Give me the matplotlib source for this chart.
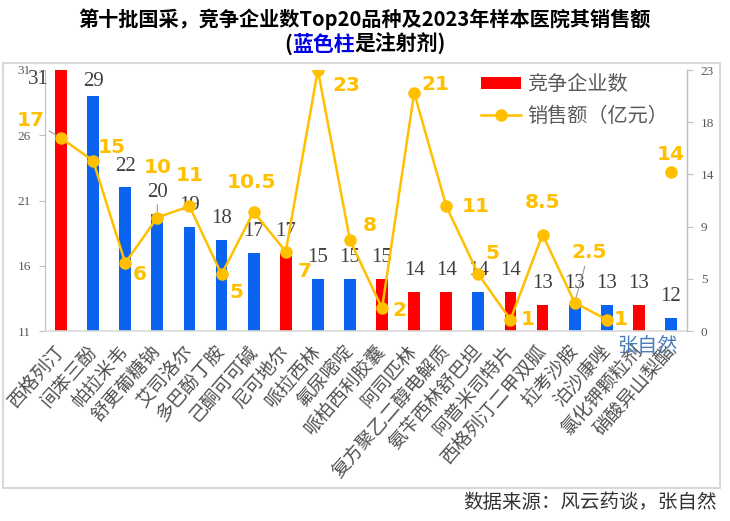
import matplotlib
matplotlib.use("Agg")
import matplotlib.pyplot as plt
import numpy as np
from matplotlib.patches import Patch, Rectangle
from matplotlib.lines import Line2D
from matplotlib.offsetbox import TextArea, HPacker, AnnotationBbox

plt.rcParams['font.family'] = ['Noto Sans CJK SC', 'DejaVu Sans']

drugs = ['西格列汀', '间苯三酚', '帕拉米韦', '舒更葡糖钠', '艾司洛尔', '多巴酚丁胺',
         '己酮可可碱', '尼可地尔', '哌拉西林', '氟尿嘧啶', '哌柏西利胶囊', '阿司匹林',
         '复方聚乙二醇电解质', '氨苄西林舒巴坦', '阿普米司特片', '西格列汀二甲双胍',
         '拉考沙胺', '泊沙康唑', '氯化钾颗粒剂', '硝酸异山梨酯']
companies = [31, 29, 22, 20, 19, 18, 17, 17, 15, 15, 15, 14, 14, 14, 14, 13, 13, 13, 13, 12]
injection = [False, True, True, True, True, True, True, False, True, True, False, False,
             False, True, False, False, True, True, False, True]
sales = [17, 15, 6, 10, 11, 5, 10.5, 7, 23, 8, 2, 21, 11, 5, 1, 8.5, 2.5, 1, np.nan, 14]
sales_labels = ['17', '15', '6', '10', '11', '5', '10.5', '7', '23', '8', '2', '21',
                '11', '5', '1', '8.5', '2.5', '1', '', '14']
left_ticks = [11, 16, 21, 26, 31]
right_ticks = [0, 4.6, 9.2, 13.8, 18.4, 23]
right_tick_labels = ['0', '5', '9', '14', '18', '23']

RED = '#FF0000'
BLUE = '#0A64F0'
GOLD = '#FFC000'
GRAY_TXT = '#404040'
AX_GRAY = '#BFBFBF'

W, H = 730, 521
fig = plt.figure(figsize=(W / 100, H / 100), dpi=100)
L, R, T, B = 45, 687, 70, 331
ax = fig.add_axes([L / W, 1 - B / H, (R - L) / W, (B - T) / H])
ax2 = ax.twinx()

x = np.arange(len(drugs))
colors = [BLUE if inj else RED for inj in injection]
ax.bar(x, companies, width=0.37, color=colors, zorder=2)
ax.set_xlim(-0.5, len(drugs) - 0.5)
ax.set_ylim(11, 31)
ax.set_yticks(left_ticks)
ax.set_yticklabels([str(t) for t in left_ticks], fontsize=9.5, color='#595959',
                   family='Liberation Serif')
ax.tick_params(axis='y', direction='out', length=4, color=AX_GRAY, pad=6)
ax.set_xticks(x)
ax.set_xticklabels(drugs, rotation=49, ha='right', va='center', rotation_mode='anchor',
                   fontsize=13.5, color='#505050', fontweight='light')
ax.tick_params(axis='x', length=0, pad=12)
for s in ['top']:
    ax.spines[s].set_visible(False)
    ax2.spines[s].set_visible(False)
ax.spines['left'].set_color(AX_GRAY)
ax.spines['bottom'].set_color('#D9D9D9')
ax.spines['bottom'].set_linewidth(1.2)
ax2.spines['right'].set_color(AX_GRAY)
ax2.spines['left'].set_visible(False)
ax2.spines['bottom'].set_visible(False)

# bar value labels
PX = 0.72  # px -> points
for i, v in enumerate(companies):
    dx, dy = 0, 21
    if i == 0:
        dx, dy = -23, -10
    elif i == 1:
        dy = 15
    kw = {}
    if i == 3:
        kw['arrowprops'] = dict(arrowstyle='-', color='#A6A6A6', lw=0.9, shrinkA=0, shrinkB=1)
    ax.annotate(str(v), (i, v), xytext=(dx * PX, dy * PX), textcoords='offset points',
                ha='center', va='center', fontsize=15, color=GRAY_TXT,
                family='Liberation Serif', zorder=4, **kw)

# sales line
ax2.plot(x, sales, color=GOLD, lw=1.8, marker='o', ms=8, zorder=3)
ax2.set_ylim(0, 23)
ax2.set_yticks(right_ticks)
ax2.set_yticklabels(right_tick_labels, fontsize=9.5, color='#595959', family='Liberation Serif')
ax2.tick_params(axis='y', direction='out', length=4, color=AX_GRAY, pad=6)

sales_off_px = [(-30, -18), (19, -13), (15, 12), (0, -50), (0, -31), (15, 18), (-2, -29),
                (19, 20), (29, 15), (20, -15), (17, 2), (21, -8), (29, 0), (14, -21),
                (17, 0), (0, -32), (14, -50), (14, 0), None, (0, -18)]
for i, (v, lab, off) in enumerate(zip(sales, sales_labels, sales_off_px)):
    if off is None or np.isnan(v):
        continue
    kw = {}
    if i in (0, 16):
        kw['arrowprops'] = dict(arrowstyle='-', color='#A6A6A6', lw=0.9, shrinkA=1, shrinkB=4)
    ax2.annotate(lab, (i, v), xytext=(off[0] * PX, -off[1] * PX), textcoords='offset points',
                 ha='center', va='center', fontsize=14.5, fontweight='bold', color=GOLD,
                 family='DejaVu Sans', zorder=5, **kw)

# legend
handles = [Patch(facecolor=RED, edgecolor='none'),
           Line2D([], [], color=GOLD, lw=1.8, marker='o', ms=8)]
leg = ax2.legend(handles, ['竞争企业数', '销售额（亿元）'], loc='upper left',
                 bbox_to_anchor=(481 / W, 1 - 74 / H), bbox_transform=fig.transFigure,
                 frameon=False, fontsize=14.5, handlelength=2.0, handleheight=0.6,
                 handletextpad=0.3, labelspacing=0.55, borderpad=0, borderaxespad=0)
for t in leg.get_texts():
    t.set_color('#595959')

# titles
fig.text(0.5, 1 - 19 / H, '第十批国采，竞争企业数Top20品种及2023年样本医院其销售额',
         ha='center', va='center', fontsize=14.5, fontweight='bold', color='black')
parts = [('(', 'black'), ('蓝色柱', '#0000E6'), ('是注射剂)', 'black')]
boxes = [TextArea(t, textprops=dict(fontsize=15, fontweight='bold', color=c)) for t, c in parts]
pack = HPacker(children=boxes, pad=0, sep=0)
ab = AnnotationBbox(pack, (0.5, 1 - 44 / H), xycoords='figure fraction',
                    frameon=False, box_alignment=(0.5, 0.5))
fig.add_artist(ab)

# chart border
fig.add_artist(Rectangle((3 / W, 1 - 488 / H), (720 - 3) / W, (488 - 63) / H,
                         transform=fig.transFigure, fill=False, ec='#D9D9D9', lw=1.5))

# watermark & source
fig.text(647 / W, 1 - 347 / H, '张自然', ha='center', va='center', fontsize=14.5,
         color='#4A7EBB')
fig.text(717 / W, 1 - 503 / H, '数据来源：风云药谈，张自然', ha='right', va='center',
         fontsize=14, color='#333333')

fig.savefig('out.png', dpi=100)
